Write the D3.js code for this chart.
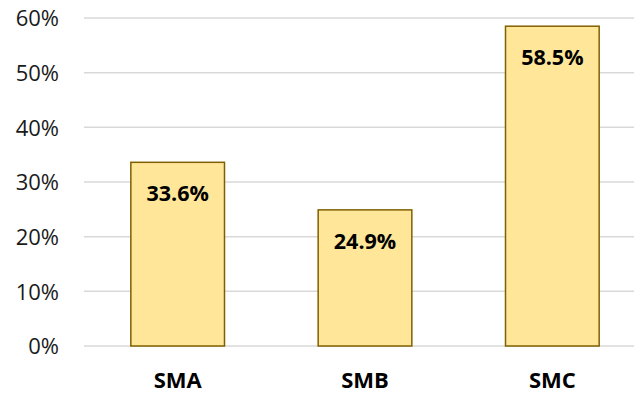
<!DOCTYPE html>
<html><head><meta charset="utf-8">
<script src="https://cdn.jsdelivr.net/npm/d3@7"></script>
<style>body{margin:0;background:#fff}svg{display:block}</style>
</head><body>
<script>
const categories = ["SMA", "SMB", "SMC"];
const values = [0.336, 0.249, 0.585];
const valueLabels = ["33.6%", "24.9%", "58.5%"];
const yTicks = [0, 0.1, 0.2, 0.3, 0.4, 0.5, 0.6];

const W = 634, H = 396;
const svg = d3.select("body").append("svg").attr("width", W).attr("height", H);
const x = d3.scaleBand().domain(categories).range([84, 646]).paddingInner(0.5).paddingOuter(0.25);
const y = d3.scaleLinear().domain([0, 0.6]).range([346, 18]);

const font = "'Open Sans', sans-serif";
// gridlines
svg.append("g").selectAll("line").data(yTicks).join("line")
  .attr("x1", 84).attr("x2", 646)
  .attr("y1", d => y(d)).attr("y2", d => y(d))
  .attr("stroke", "#d9d9d9").attr("stroke-width", 1.5);

// y axis labels
const yAxis = d3.axisLeft(y).tickValues(yTicks).tickFormat(d3.format(".0%")).tickSize(0).tickPadding(0);
const ya = svg.append("g").attr("transform", "translate(59,0)").call(yAxis);
ya.select(".domain").remove();
ya.selectAll("text").attr("font-family", font).attr("font-size", 22).attr("fill", "#1a1a1a").attr("dy", "0.35em");

// bars
svg.append("g").selectAll("rect").data(values).join("rect")
  .attr("x", (d, i) => x(categories[i]))
  .attr("width", x.bandwidth())
  .attr("y", d => y(d))
  .attr("height", d => y(0) - y(d))
  .attr("fill", "#ffe699").attr("stroke", "#7f6000").attr("stroke-width", 1.5);

// value labels
svg.append("g").selectAll("text").data(values).join("text")
  .attr("x", (d, i) => x(categories[i]) + x.bandwidth() / 2)
  .attr("y", d => y(d) + 39)
  .attr("text-anchor", "middle")
  .attr("font-family", font).attr("font-weight", "bold").attr("font-size", 21.5)
  .attr("fill", "#000")
  .text((d, i) => valueLabels[i]);

// x axis labels
const xAxis = d3.axisBottom(x).tickSize(0).tickPadding(0);
const xa = svg.append("g").attr("transform", "translate(0,388)").call(xAxis);
xa.select(".domain").remove();
xa.selectAll("text").attr("font-family", font).attr("font-weight", "bold").attr("font-size", 22).attr("fill", "#000").attr("dy", 0);
</script>
</body></html>
